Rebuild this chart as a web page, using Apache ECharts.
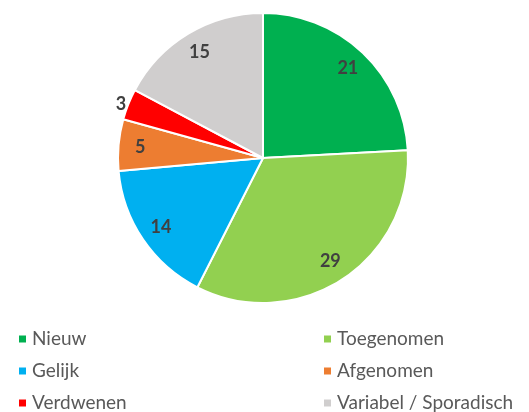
<!DOCTYPE html>
<html>
<head>
<meta charset="utf-8">
<script src="https://cdn.jsdelivr.net/npm/echarts@6/dist/echarts.min.js"></script>
<style>
  html, body { margin: 0; padding: 0; background: #fff; }
  #chart { width: 529px; height: 412px; }
</style>
</head>
<body>
<div id="chart"></div>
<script>
// categories and counts, clockwise from 12 o'clock
const categories = ['Nieuw', 'Toegenomen', 'Gelijk', 'Afgenomen', 'Verdwenen', 'Variabel / Sporadisch'];
const counts = [21, 29, 14, 5, 3, 15];
const colors = ['#00B050', '#92D050', '#00B0F0', '#ED7D31', '#FF0000', '#D0CECE'];
// label for the small slice sits outside the pie
const outsideLabel = ['Verdwenen'];

const legendLeft = ['Nieuw', 'Gelijk', 'Verdwenen'];
const legendRight = ['Toegenomen', 'Afgenomen', 'Variabel / Sporadisch'];

const chart = echarts.init(document.getElementById('chart'));

const center = [263, 158];
const R = 145;

const pieData = categories.map((name, i) => ({
  name: name,
  value: counts[i],
  itemStyle: { color: colors[i] }
}));

// transparent ring used only to put labels at ~0.83 of the radius
const labelData = categories.map((name, i) => {
  const item = { name: name, value: counts[i], itemStyle: { color: 'transparent' } };
  if (outsideLabel.indexOf(name) >= 0) {
    item.label = { position: 'outside', distanceToLabelLine: 2 };
    item.labelLine = { show: false, length: 0, length2: 0 };
  }
  return item;
});

const labelFont = { fontFamily: 'Lato', fontSize: 18, fontWeight: 'bold', color: '#404040' };
const legendText = { fontFamily: 'Lato', fontSize: 19, color: '#595959', lineHeight: 20 };

function makeLegend(names, left) {
  return {
    orient: 'vertical', left: left, top: 324, height: 140,
    icon: 'rect', itemWidth: 9, itemHeight: 9, itemGap: 12,
    data: names, textStyle: legendText, selectedMode: false
  };
}

const option = {
  animation: false,
  legend: [makeLegend(legendLeft, 12), makeLegend(legendRight, 317)],
  series: [
    {
      name: 'slices',
      type: 'pie',
      center: center,
      radius: [0, R],
      startAngle: 90,
      clockwise: true,
      itemStyle: { borderColor: '#fff', borderWidth: 2 },
      label: { show: false },
      labelLine: { show: false },
      data: pieData
    },
    {
      name: 'labels',
      type: 'pie',
      center: center,
      radius: [R * 0.66, R],
      startAngle: 90,
      clockwise: true,
      silent: true,
      label: Object.assign({ show: true, position: 'inside', formatter: '{c}' }, labelFont),
      labelLine: { show: false },
      data: labelData
    }
  ]
};

chart.setOption(option);
window.addEventListener('resize', () => chart.resize());
</script>
</body>
</html>
